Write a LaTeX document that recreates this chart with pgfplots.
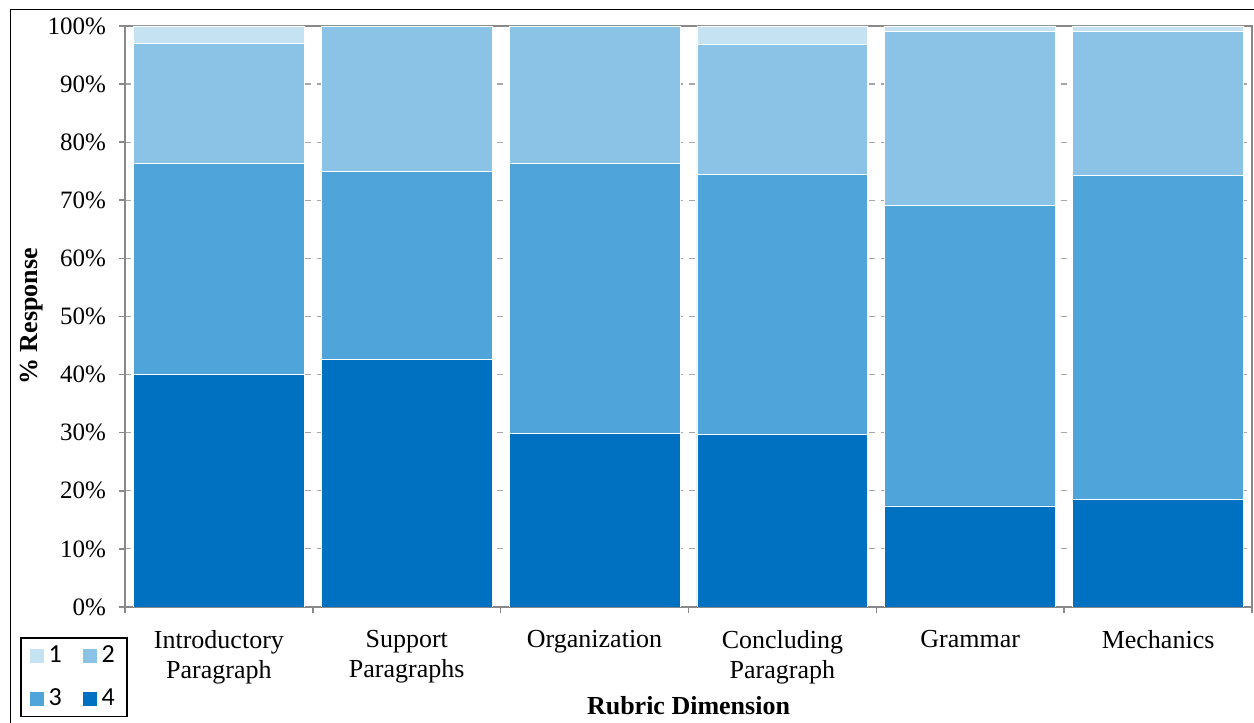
\documentclass[border=0pt]{standalone}
\usepackage{pgfplots}
\pgfplotsset{compat=1.18}
\usepackage{fontspec}
\setmainfont{Liberation Serif}
\newfontfamily\legendfont{Carlito}

\definecolor{lvlfour}{HTML}{0070C0}
\definecolor{lvlthree}{HTML}{4FA5DA}
\definecolor{lvltwo}{HTML}{8BC3E6}
\definecolor{lvlone}{HTML}{C5E2F3}
\definecolor{axisgray}{HTML}{898989}
\definecolor{gridgray}{HTML}{A6A6A6}

\begin{document}
\begin{tikzpicture}
\path[use as bounding box] (0,0) rectangle (627pt,361.5pt);
% outer chart frame
\draw[black, line width=0.8pt] (5.25pt,0pt) -- (5.25pt,356.75pt) -- (627pt,356.75pt);

\begin{axis}[
  at={(62.5pt,58pt)}, anchor=south west,
  scale only axis,
  width=563.5pt, height=290.5pt,
  ybar stacked,
  bar width=0.91,
  xmin=-0.5, xmax=5.5,
  ymin=0, ymax=100,
  xtick={0,1,2,3,4,5},
  xticklabels={Introductory\\Paragraph, Support\\Paragraphs, Organization, Concluding\\Paragraph, Grammar, Mechanics},
  x tick label style={align=center, font=\fontsize{13}{15}\selectfont, yshift=-5pt},
  major x tick style={draw=none},
  minor xtick={-0.5,0.5,1.5,2.5,3.5,4.5,5.5},
  minor tick length=3pt,
  minor x tick style={axisgray, line width=0.8pt},
  ytick={0,10,20,30,40,50,60,70,80,90,100},
  yticklabels={0\%,10\%,20\%,30\%,40\%,50\%,60\%,70\%,80\%,90\%,100\%},
  y tick label style={font=\fontsize{12.5}{14}\selectfont, xshift=-3pt},
  major tick length=3pt,
  tick align=outside,
  xtick pos=bottom, ytick pos=left,
  major y tick style={axisgray, line width=0.8pt},
  ymajorgrids,
  major grid style={gridgray, dashed, line width=0.6pt},
  axis line style={axisgray, line width=1pt},
  ylabel={\textbf{\% Response}},
  ylabel style={font=\fontsize{13}{15}\selectfont, at={(-0.0825,0.5)}, anchor=center},
  xlabel={\textbf{Rubric Dimension}},
  xlabel style={font=\fontsize{13}{15}\selectfont, at={(0.5,-0.170)}, anchor=center},
  legend columns=2,
  reverse legend,
  legend style={at={(-0.0932,-0.0516)}, anchor=north west,
    draw=black, line width=0.8pt, font=\legendfont\fontsize{13}{15}\selectfont,
    inner xsep=4pt, inner ysep=2pt, row sep=7.5pt,
    /tikz/every even column/.append style={column sep=8pt}},
  legend image code/.code={\fill[#1] (0pt,-3.75pt) rectangle (7.5pt,3.75pt);},
  every axis plot/.append style={draw=white, line width=0.4pt},
]
% level 4 (bottom of each stack)
\addplot[fill=lvlfour] coordinates {(0,40.1) (1,42.6) (2,29.8) (3,29.7) (4,17.4) (5,18.5)};
% level 3
\addplot[fill=lvlthree] coordinates {(0,36.2) (1,32.3) (2,46.5) (3,44.7) (4,51.7) (5,55.8)};
% level 2
\addplot[fill=lvltwo] coordinates {(0,20.7) (1,25.1) (2,23.7) (3,22.5) (4,29.9) (5,24.7)};
% level 1 (top)
\addplot[fill=lvlone] coordinates {(0,3.0) (1,0) (2,0) (3,3.1) (4,1.0) (5,1.0)};
\legend{4,3,2,1}
% top edge of the plot frame, kept above the bars
\draw[axisgray, line width=1pt] (rel axis cs:0,1) -- (rel axis cs:1,1);
\end{axis}
\end{tikzpicture}
\end{document}
